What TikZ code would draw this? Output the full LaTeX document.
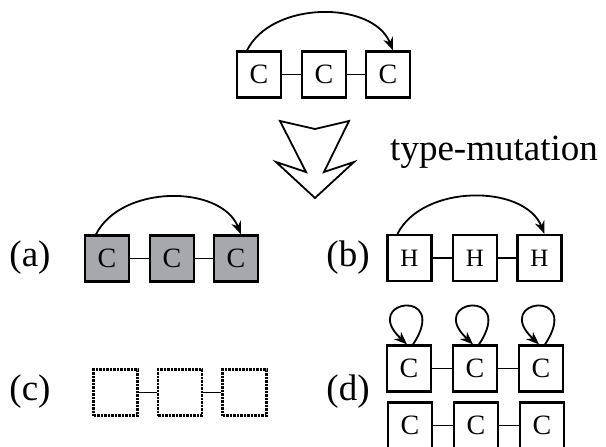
\documentclass[tikz,border=0pt]{standalone}
\usepackage{fontspec}
\setmainfont{Liberation Serif}
\usepackage{tikz}
\usetikzlibrary{arrows, arrows.meta, positioning}
\tikzset{>=stealth}
\definecolor{cellgray}{RGB}{167,168,171}

\begin{document}
\begin{tikzpicture}[x=1pt, y=-1pt, >={Stealth[length=13pt,width=10pt]}, line width=1.8pt,
		cell/.style={draw, line width=2.2pt, minimum width=44pt, minimum height=46pt, inner sep=0pt, font=\fontsize{28}{28}\selectfont},
		gcell/.style={cell, fill=cellgray},
		dcell/.style={cell, line width=2.4pt, dash pattern=on 2.5pt off 1pt},
		lab/.style={font=\fontsize{37}{42}\selectfont}]
		\useasboundingbox (0,0) rectangle (606,447);
		% top chain
		\node[cell] (T1) at (259,74.5) {C};
		\node[cell] (T2) at (324,74.5) {C};
		\node[cell] (T3) at (388,74.5) {C};
		\draw (T1)--(T2); \draw (T2)--(T3);
		\draw [->]([xshift=-12pt]T1.north) .. controls +(25,-50) and +(-20,-50) .. ([xshift=5pt]T3.north);
		% big arrow
		\draw [line width=1.8pt] (280,121) -- (315,129) -- (349,121) -- (324,172) -- (354,162) -- (315,198) -- (276,162) -- (306,172) -- cycle;
		\node[lab, anchor=base west] at (386,160) {type-mutation};
		% (a)
		\node[lab] at (30,258) {(a)};
		\node[gcell] (A1) at (107,258.5) {C};
		\node[gcell] (A2) at (172,258.5) {C};
		\node[gcell] (A3) at (236,258.5) {C};
		\draw (A1)--(A2); \draw (A2)--(A3);
		\draw [->]([xshift=-11pt]A1.north) .. controls +(25,-50) and +(-20,-50) .. ([xshift=5pt]A3.north);
		% (b)
		\node[lab] at (348,258) {(b)};
		\node[cell, font=\fontsize{25}{25}\selectfont] (B1) at (409.5,258) {H};
		\node[cell, font=\fontsize{25}{25}\selectfont] (B2) at (475,258) {H};
		\node[cell, font=\fontsize{25}{25}\selectfont] (B3) at (539.5,258) {H};
		\draw (B1)--(B2); \draw (B2)--(B3);
		\draw [->]([xshift=-12pt]B1.north) .. controls +(25,-50) and +(-20,-50) .. ([xshift=5pt]B3.north);
		% (c)
		\node[lab] at (30,392) {(c)};
		\node[dcell] (C1) at (115.5,392.5) {};
		\node[dcell] (C2) at (180,392.5) {};
		\node[dcell] (C3) at (244.5,392.5) {};
		\draw (C1)--(C2); \draw (C2)--(C3);
		% (d)
		\node[lab] at (348,392) {(d)};
		\node[cell] (D1) at (409,368.5) {C};
		\node[cell] (D2) at (475,368.5) {C};
		\node[cell] (D3) at (541,368.5) {C};
		\draw (D1)--(D2); \draw (D2)--(D3);
		\foreach \n in {D1,D2,D3}
			\draw [->]([xshift=4pt]\n.north) .. controls +(38,-57) and +(-48,-45) .. ([xshift=-2pt]\n.north);
		\node[cell] (E1) at (410,425.5) {C};
		\node[cell] (E2) at (476,425.5) {C};
		\node[cell] (E3) at (542,425.5) {C};
		\draw (E1)--(E2); \draw (E2)--(E3);
\end{tikzpicture}
\end{document}
